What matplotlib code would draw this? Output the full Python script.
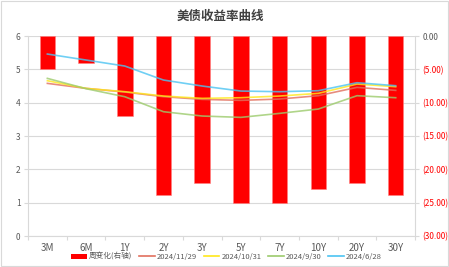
import matplotlib.pyplot as plt
import numpy as np
from matplotlib.patches import Rectangle, Patch
from matplotlib.lines import Line2D
from matplotlib.ticker import FuncFormatter

plt.rcParams['font.family'] = ['Noto Sans CJK SC', 'DejaVu Sans']

# data
tenors = ['3M', '6M', '1Y', '2Y', '3Y', '5Y', '7Y', '10Y', '20Y', '30Y']
weekly_change = [-5.0, -4.0, -12.0, -23.8, -22.0, -25.0, -25.0, -22.9, -22.0, -23.8]
y_1129 = [4.58, 4.43, 4.32, 4.18, 4.10, 4.07, 4.11, 4.21, 4.46, 4.37]
y_1031 = [4.66, 4.43, 4.33, 4.20, 4.13, 4.15, 4.20, 4.28, 4.56, 4.48]
y_0930 = [4.73, 4.42, 4.18, 3.73, 3.60, 3.56, 3.68, 3.81, 4.21, 4.15]
y_0628 = [5.46, 5.28, 5.10, 4.68, 4.50, 4.35, 4.33, 4.36, 4.60, 4.51]

series = [
    ('2024/11/29', y_1129, '#E2705E'),
    ('2024/10/31', y_1031, '#FFE81A'),
    ('2024/9/30', y_0930, '#9CCB6C'),
    ('2024/6/28', y_0628, '#4CC4F2'),
]

grey = '#595959'
axis_c = '#D9D9D9'

fig = plt.figure(figsize=(4.49, 2.67), dpi=100)
ax = fig.add_axes([0.0624, 0.116, 0.862, 0.749])
ax2 = ax.twinx()

x = np.arange(len(tenors))

# bars on the right axis
ax2.bar(x, weekly_change, width=0.4, color='#FF0000', edgecolor='#FF8080', linewidth=0.4, zorder=2)
ax2.set_ylim(-30, 0)
ax2.set_yticks(np.arange(-30, 1, 5))
ax2.yaxis.set_major_formatter(FuncFormatter(lambda v, p: '0.00' if v == 0 else '({:.2f})'.format(abs(v))))
ax2.grid(axis='y', color=axis_c, linewidth=0.8, zorder=0)
ax2.set_axisbelow(True)

# lines on the left axis, drawn over bars
ax.set_zorder(ax2.get_zorder() + 1)
ax.patch.set_visible(False)
for name, vals, c in series:
    ax.plot(x, vals, color=c, linewidth=1.2, alpha=0.8)

ax.set_ylim(0, 6)
ax.set_yticks(range(7))
ax.set_xlim(-0.5, len(tenors) - 0.5)
ax.set_xticks(x)
ax.set_xticklabels(tenors)
ax.set_xticks(np.arange(-0.5, len(tenors), 1), minor=True)

for a in (ax, ax2):
    for s in a.spines.values():
        s.set_visible(False)
    a.tick_params(axis='y', labelsize=6, colors=axis_c, length=3, width=0.8, labelcolor=grey, pad=2.5)
for lab, v in zip(ax2.get_yticklabels(), np.arange(-30, 1, 5)):
    lab.set_color(grey if v == 0 else '#FF0000')

ax.spines['left'].set_visible(True)
ax.spines['left'].set_color(axis_c)
ax.spines['bottom'].set_visible(True)
ax.spines['bottom'].set_color(axis_c)
ax2.spines['right'].set_visible(True)
ax2.spines['right'].set_color(axis_c)
ax.tick_params(axis='x', which='major', length=0, labelsize=7, labelcolor=grey, pad=5)
ax.tick_params(axis='x', which='minor', length=3, color=axis_c, width=0.8)

fig.text(0.49, 0.94, '美债收益率曲线', ha='center', va='center', fontsize=9,
         fontweight='bold', color='#404040')

handles = [Patch(facecolor='#FF0000', edgecolor='none', label='周变化(右轴)')]
for name, vals, c in series:
    handles.append(Line2D([], [], color=c, linewidth=1.2, label=name))
fig.legend(handles=handles, loc='center', bbox_to_anchor=(0.505, 0.038), ncol=5,
           frameon=False, fontsize=5.5, handlelength=2.0, handleheight=0.6,
           columnspacing=0.9, handletextpad=0.3, labelcolor=grey)

fig.patches.append(Rectangle((0.002, 0.004), 0.995, 0.992, transform=fig.transFigure,
                             fill=False, edgecolor=axis_c, linewidth=0.8))

fig.savefig('out.png', dpi=100)
